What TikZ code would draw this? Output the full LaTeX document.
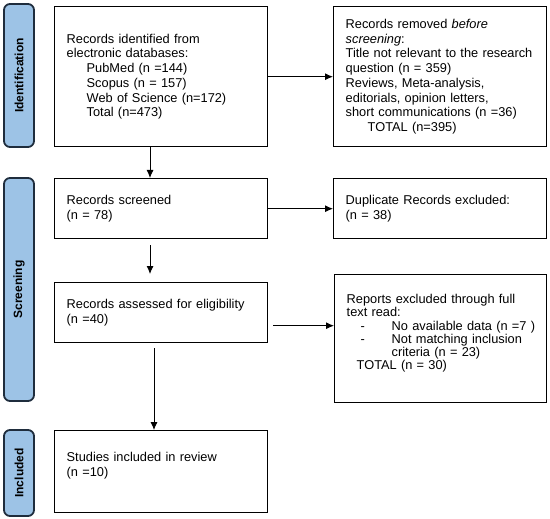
\documentclass[tikz,border=0pt]{standalone}
\usepackage{fontspec}
\setmainfont{Liberation Sans}
\usetikzlibrary{arrows.meta}
\definecolor{stageblue}{RGB}{157,195,230}
\definecolor{stageedge}{RGB}{31,45,61}

\begin{document}
\begin{tikzpicture}[x=1bp, y=-1bp,
    box/.style={draw, line width=1.4bp, anchor=north west, inner xsep=12bp, inner ysep=0pt, align=left, font=\fontsize{12.8bp}{14.7bp}\selectfont},
    stage/.style={draw=stageedge, fill=stageblue, line width=1.8bp, rounded corners=6bp, rotate=90, minimum height=30bp, inner sep=0pt, font=\bfseries\fontsize{12bp}{14bp}\selectfont},
    arrow/.style={-{Latex[length=8bp,width=7bp]}, line width=0.9bp}
]
    \useasboundingbox (0,0) rectangle (550,519);

    % Stage labels on the left
    \node[stage, minimum width=143bp] (sid) at (19,75.5) {Identification};
    \node[stage, minimum width=223bp] (sscr) at (19,289.5) {Screening};
    \node[stage, minimum width=86bp] (sinc) at (19,473) {Included};

    % Identification
    \node[box, text width=189bp, minimum height=140bp] (ident) at (54,6) {Records identified from\\
        electronic databases:\\
        \hspace*{20bp}PubMed (n =144)\\
        \hspace*{20bp}Scopus (n = 157)\\
        \hspace*{20bp}Web of Science (n=172)\\
        \hspace*{20bp}Total (n=473)};
    \node[box, text width=189bp, minimum height=140bp] (removed) at (333,6) {Records removed \textit{before}\\
        \textit{screening}:\\
        Title not relevant to the research\\
        question (n = 359)\\
        Reviews, Meta-analysis,\\
        editorials, opinion letters,\\
        short communications (n =36)\\
        \hspace*{22bp}TOTAL (n=395)};

    % Screening
    \node[box, text width=189bp, minimum height=60bp] (screened) at (54,178) {Records screened\\(n = 78)};
    \node[box, text width=189bp, minimum height=60bp] (dupl) at (333,178) {Duplicate Records excluded:\\(n = 38)};
    \node[box, text width=189bp, minimum height=60bp] (assessed) at (54,282) {Records assessed for eligibility\\(n =40)};
    \node[box, text width=188bp, minimum height=128bp, font=\fontsize{12.8bp}{13.2bp}\selectfont] (fulltext) at (334,274) {Reports excluded through full\\
        text read:\\
        \hspace*{14bp}\makebox[31bp][l]{-}\mbox{No available data (n =7 )}\\
        \hspace*{14bp}\makebox[31bp][l]{-}\mbox{Not matching inclusion}\\
        \hspace*{45bp}criteria (n = 23)\\
        \hspace*{10bp}TOTAL (n = 30)\\
        \mbox{}};

    % Included
    \node[box, text width=189bp, minimum height=82bp] (studies) at (54,430) {Studies included in review\\(n =10)\\\mbox{}};

    % Flow
    \draw[arrow] (ident) -- (removed);
    \draw[arrow] ([xshift=96bp]ident.south west) -- ([xshift=96bp]screened.north west);
    \draw[arrow] (screened) -- (dupl);
    \draw[arrow] ([xshift=96bp,yshift=-6bp]screened.south west) -- ([xshift=96bp,yshift=8bp]assessed.north west);
    \draw[arrow] ([xshift=5bp,yshift=-13bp]assessed.east) -- ([yshift=-13bp]assessed.east -| fulltext.west);
    \draw[arrow] ([xshift=100bp,yshift=-5bp]assessed.south west) -- ([xshift=100bp]studies.north west);
\end{tikzpicture}
\end{document}
